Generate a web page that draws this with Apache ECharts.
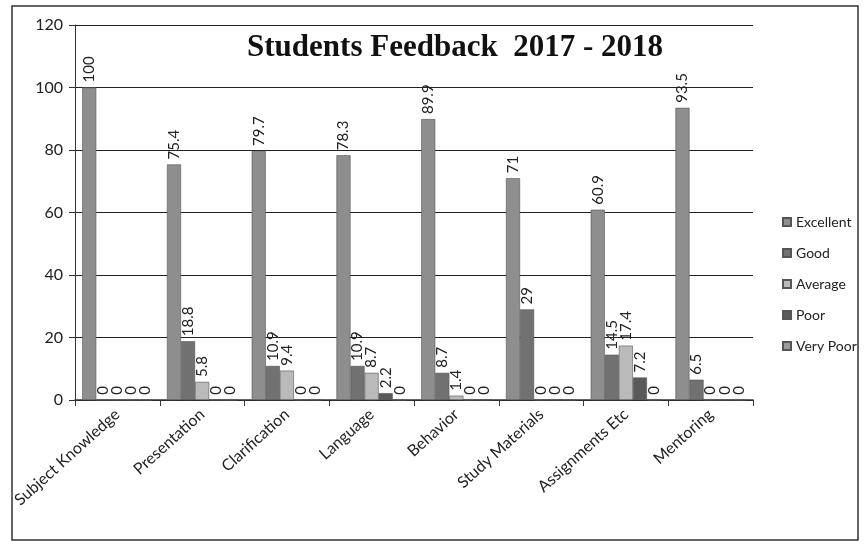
<!DOCTYPE html>
<html>
<head>
<meta charset="utf-8">
<script src="https://cdn.jsdelivr.net/npm/echarts@6/dist/echarts.min.js"></script>
<style>html,body{margin:0;padding:0;background:#fff}#c{width:865px;height:553px}</style>
</head>
<body>
<div id="c"></div>
<script>
const categories = ['Subject Knowledge','Presentation','Clarification','Language','Behavior','Study Materials','Assignments Etc','Mentoring'];
const seriesNames = ['Excellent','Good','Average','Poor','Very Poor'];
const excellent = [100, 75.4, 79.7, 78.3, 89.9, 71, 60.9, 93.5];
const good      = [0, 18.8, 10.9, 10.9, 8.7, 29, 14.5, 6.5];
const average   = [0, 5.8, 9.4, 8.7, 1.4, 0, 17.4, 0];
const poor      = [0, 0, 0, 2.2, 0, 0, 7.2, 0];
const veryPoor  = [0, 0, 0, 0, 0, 0, 0, 0];
const yTicks = [0, 20, 40, 60, 80, 100, 120];

const colors = ['#8e8e8e', '#717171', '#bababa', '#595959', '#9c9c9c'];
const allData = [excellent, good, average, poor, veryPoor];

const chart = echarts.init(document.getElementById('c'));
chart.setOption({
  animation: false,
  backgroundColor: '#fff',
  title: {
    text: 'Students Feedback  2017 - 2018',
    left: 450, top: 27, textAlign: 'center',
    textStyle: { fontFamily: 'Liberation Serif', fontWeight: 'bold', fontSize: 31, color: '#111' }
  },
  legend: {
    orient: 'vertical', left: 782, top: 215, itemGap: 17, itemHeight: 8, itemWidth: 8,
    icon: 'rect', padding: 0,
    textStyle: { fontFamily: 'Lato', fontSize: 14, color: '#222' },
    data: seriesNames
  },
  grid: { left: 75, right: 112, top: 25, bottom: 153 },
  xAxis: {
    type: 'category', data: categories,
    axisLine: { lineStyle: { color: '#333', width: 1.5 } },
    axisTick: { show: true, length: 6, lineStyle: { color: '#333' } },
    axisLabel: { rotate: 42, fontFamily: 'Lato', fontSize: 16, color: '#222', margin: 12 }
  },
  yAxis: {
    type: 'value', min: 0, max: 120, interval: 20,
    axisLine: { show: true, lineStyle: { color: '#333', width: 1 } },
    axisTick: { show: true, length: 6, lineStyle: { color: '#333' } },
    splitLine: { lineStyle: { color: '#222', width: 1.2 } },
    axisLabel: { fontFamily: 'Lato', fontSize: 16, color: '#222', margin: 12,
      formatter: v => yTicks.includes(v) ? String(v) : '' }
  },
  series: seriesNames.map((n, i) => ({
    name: n, type: 'bar', data: allData[i],
    barGap: '0%', barCategoryGap: '17%',
    itemStyle: { color: colors[i], borderColor: '#555', borderWidth: 0.6 },
    label: {
      show: true, position: 'top', rotate: 90, align: 'left', verticalAlign: 'middle',
      distance: 5, fontFamily: 'Lato', fontSize: 15, color: '#222'
    }
  })),
  graphic: [{
    type: 'rect', shape: { x: 12, y: 6, width: 846, height: 534 },
    style: { fill: 'none', stroke: '#333', lineWidth: 1.5 }, silent: true, z: -1
  }]
});
</script>
</body>
</html>
